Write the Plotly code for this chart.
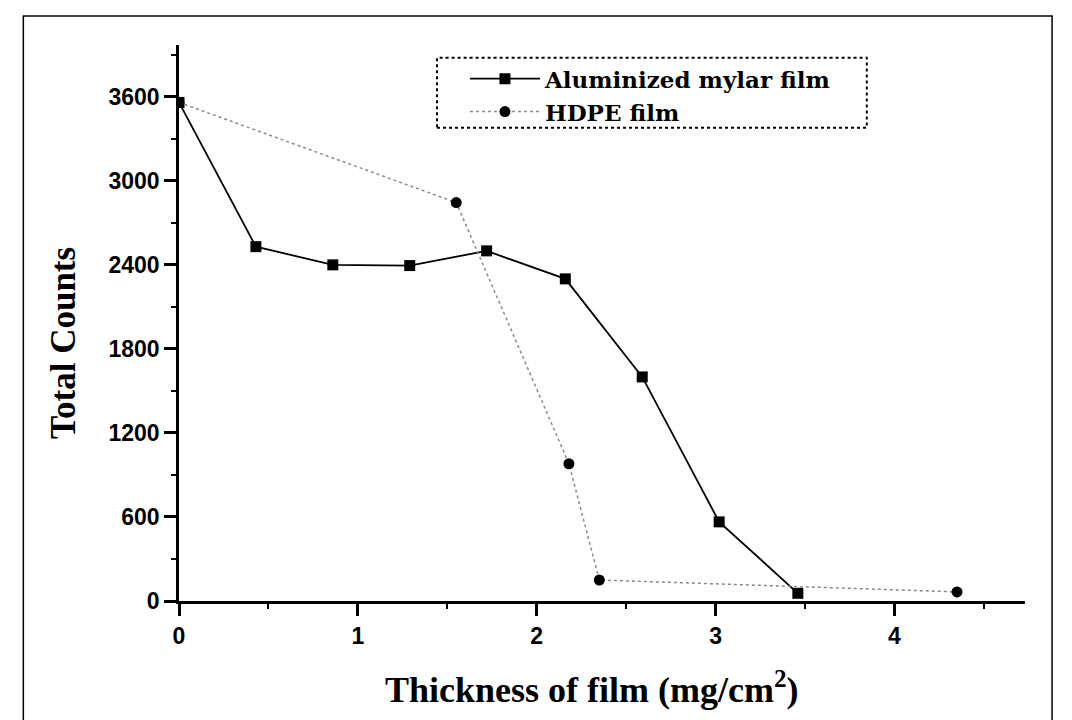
import plotly.graph_objects as go

# Data
mylar_x = [0.0, 0.43, 0.86, 1.29, 1.72, 2.16, 2.59, 3.02, 3.46]
mylar_y = [3560, 2530, 2400, 2395, 2500, 2300, 1600, 565, 55]
hdpe_x = [0.0, 1.55, 2.18, 2.35, 4.35]
hdpe_y = [3560, 2845, 980, 150, 65]

x_ticks = [0, 1, 2, 3, 4]
y_ticks = [0, 600, 1200, 1800, 2400, 3000, 3600]

x_title = "Thickness of film (mg/cm<sup>2</sup>)"
y_title = "Total Counts"

fig = go.Figure()
fig.add_trace(go.Scatter(
    x=mylar_x, y=mylar_y, mode="lines+markers", name="Aluminized mylar film",
    line=dict(color="black", width=1.8),
    marker=dict(symbol="square", size=11, color="black"),
))
fig.add_trace(go.Scatter(
    x=hdpe_x, y=hdpe_y, mode="lines+markers", name="HDPE film",
    line=dict(color="#8a8a8a", width=1.5, dash="dot"),
    marker=dict(symbol="circle", size=11, color="black"),
))

axis_common = dict(
    showgrid=False, zeroline=False, showline=True, linecolor="black",
    ticks="outside", tickcolor="black", ticklen=12, tickwidth=2.5,
    tickfont=dict(family="Liberation Sans", size=23, color="black", weight="bold"),
    minor=dict(ticks="outside", ticklen=5, tickwidth=2, tickcolor="black"),
)

fig.update_xaxes(range=[0, 4.73], tickvals=x_ticks, linewidth=3,
                 minor_dtick=0.5, **axis_common)
fig.update_yaxes(range=[0, 3970], tickvals=y_ticks, linewidth=2.5,
                 minor_dtick=300, **axis_common)

title_font = dict(family="Liberation Serif", color="black", weight="bold")
fig.add_annotation(text=x_title, xref="paper", yref="paper", x=0.488, y=-0.155,
                   xanchor="center", yanchor="middle", showarrow=False,
                   font=dict(size=36, **title_font))
fig.add_annotation(text=y_title, xref="paper", yref="paper", x=-0.137, y=0.464,
                   xanchor="center", yanchor="middle", showarrow=False, textangle=-90,
                   font=dict(size=35, **title_font))

# outer frame
fig.add_shape(type="rect", xref="paper", yref="paper",
              x0=-0.184, x1=1.032, y0=-0.25, y1=1.052,
              line=dict(color="black", width=1.5))
# legend frame (dotted)
fig.add_shape(type="rect", xref="paper", yref="paper",
              x0=0.305, x1=0.813, y0=0.851, y1=0.977,
              line=dict(color="black", width=2, dash="dot"))

fig.update_layout(
    width=1072, height=720,
    margin=dict(l=179, r=47, t=45, b=119),
    paper_bgcolor="white", plot_bgcolor="white",
    showlegend=True,
    legend=dict(x=0.338, y=0.978, xanchor="left", yanchor="top",
                bgcolor="rgba(0,0,0,0)", borderwidth=0, itemwidth=70,
                font=dict(family="DejaVu Serif", size=23, color="black", weight="bold"),
                tracegroupgap=0),
)

fig.write_html("out.html")
